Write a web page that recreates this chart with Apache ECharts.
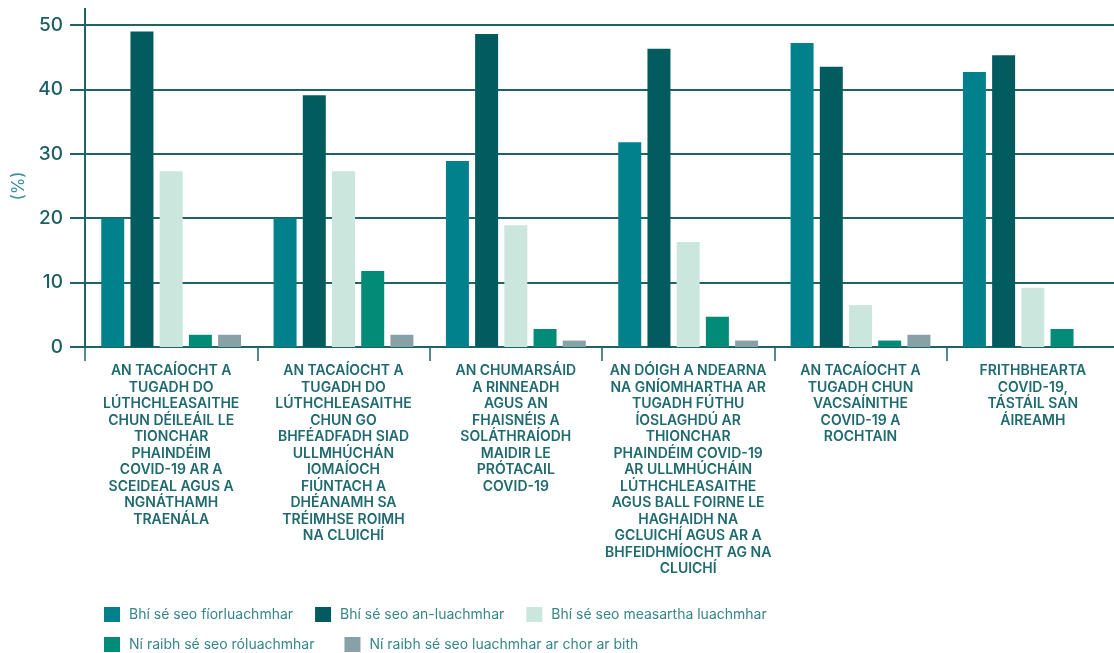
<!DOCTYPE html>
<html>
<head>
<meta charset="utf-8">
<script src="https://cdn.jsdelivr.net/npm/echarts@6/dist/echarts.min.js"></script>
<style>
  html, body { margin: 0; padding: 0; background: #ffffff; }
  #chart { width: 1114px; height: 653px; }
</style>
</head>
<body>
<div id="chart"></div>
<script>
// Categories (axis labels, wrapped as printed)
const categories = [
  'AN TACAÍOCHT A\nTUGADH DO\nLÚTHCHLEASAITHE\nCHUN DÉILEÁIL LE\nTIONCHAR\nPHAINDÉIM\nCOVID-19 AR A\nSCEIDEAL AGUS A\nNGNÁTHAMH\nTRAENÁLA',
  'AN TACAÍOCHT A\nTUGADH DO\nLÚTHCHLEASAITHE\nCHUN GO\nBHFÉADFADH SIAD\nULLMHÚCHÁN\nIOMAÍOCH\nFIÚNTACH A\nDHÉANAMH SA\nTRÉIMHSE ROIMH\nNA CLUICHÍ',
  'AN CHUMARSÁID\nA RINNEADH\nAGUS AN\nFHAISNÉIS A\nSOLÁTHRAÍODH\nMAIDIR LE\nPRÓTACAIL\nCOVID-19',
  'AN DÓIGH A NDEARNA\nNA GNÍOMHARTHA AR\nTUGADH FÚTHU\nÍOSLAGHDÚ AR\nTHIONCHAR\nPHAINDÉIM COVID-19\nAR ULLMHÚCHÁIN\nLÚTHCHLEASAITHE\nAGUS BALL FOIRNE LE\nHAGHAIDH NA\nGCLUICHÍ AGUS AR A\nBHFEIDHMÍOCHT AG NA\nCLUICHÍ',
  'AN TACAÍOCHT A\nTUGADH CHUN\nVACSAÍNITHE\nCOVID-19 A\nROCHTAIN',
  'FRITHBHEARTA\nCOVID-19,\nTÁSTÁIL SAN\nÁIREAMH'
];

// Series names
const seriesNames = [
  'Bhí sé seo fíorluachmhar',
  'Bhí sé seo an-luachmhar',
  'Bhí sé seo measartha luachmhar',
  'Ní raibh sé seo róluachmhar',
  'Ní raibh sé seo luachmhar ar chor ar bith'
];

// Values (%) per series, one per category
const veryValuable       = [20, 20, 28.9, 31.8, 47.2, 42.7];
const extremelyValuable  = [49, 39.1, 48.6, 46.3, 43.5, 45.3];
const moderatelyValuable = [27.3, 27.3, 18.9, 16.3, 6.5, 9.2];
const notVeryValuable    = [1.9, 11.8, 2.8, 4.7, 1, 2.8];
const notAtAllValuable   = [1.9, 1.9, 1, 1, 1.9, 0];

// Y-axis ticks
const yTicks = [0, 10, 20, 30, 40, 50];

const seriesValues = [veryValuable, extremelyValuable, moderatelyValuable, notVeryValuable, notAtAllValuable];
const colors = ['#00818c', '#025c5f', '#cbe6dc', '#028b77', '#87a1a6'];

const axisColor = '#1f6367';
const FONT = 'Inter, Lato, sans-serif';

const chart = echarts.init(document.getElementById('chart'), null, { renderer: 'canvas' });

const legendText = { fontFamily: FONT, fontSize: 14, color: '#35858a', padding: [0, 0, 0, 4] };

const option = {
  backgroundColor: '#ffffff',
  animation: false,
  textStyle: { fontFamily: FONT },
  // the plot runs slightly past the right edge of the canvas
  grid: { left: 85, width: 1034, top: 25, bottom: 306, containLabel: false, outerBoundsMode: 'none' },
  legend: [
    {
      data: seriesNames.slice(0, 3),
      left: 104, top: 607, padding: 0,
      itemWidth: 16, itemHeight: 15, itemGap: 22,
      icon: 'rect',
      textStyle: legendText
    },
    {
      data: seriesNames.slice(3),
      left: 104, top: 637, padding: 0,
      itemWidth: 16, itemHeight: 15, itemGap: 30,
      icon: 'rect',
      textStyle: legendText
    }
  ],
  xAxis: {
    type: 'category',
    data: categories,
    boundaryGap: true,
    axisLine: { show: true, lineStyle: { color: axisColor, width: 2 } },
    axisTick: { show: true, length: 14, alignWithLabel: false, lineStyle: { color: axisColor, width: 1.5 } },
    axisLabel: {
      interval: 0,
      margin: 16,
      fontFamily: FONT,
      fontSize: 14,
      fontWeight: 600,
      lineHeight: 16.5,
      color: '#1f6a6f',
      align: 'center'
    }
  },
  yAxis: {
    type: 'value',
    min: yTicks[0],
    max: yTicks[yTicks.length - 1],
    interval: yTicks[1] - yTicks[0],
    name: '(%)',
    nameLocation: 'middle',
    nameGap: 57,
    nameRotate: 90,
    nameTextStyle: { fontFamily: FONT, fontSize: 17, color: '#3a9095' },
    axisLine: { show: true, lineStyle: { color: axisColor, width: 2 } },
    axisTick: { show: true, inside: false, length: 15, lineStyle: { color: axisColor, width: 2 } },
    axisLabel: {
      margin: 22,
      fontFamily: FONT,
      fontSize: 19,
      fontWeight: 500,
      color: '#1b5e63'
    },
    splitLine: { show: true, lineStyle: { color: axisColor, width: 2 } }
  },
  series: seriesNames.map((name, i) => ({
    name: name,
    type: 'bar',
    data: seriesValues[i],
    barWidth: 23,
    barGap: '27%',
    itemStyle: { color: colors[i] },
    z: 3
  }))
};

chart.setOption(option);

// Extend the y axis line a little above the top gridline
const yTop = chart.convertToPixel({ yAxisIndex: 0 }, yTicks[yTicks.length - 1]);
const xLeft = chart.convertToPixel({ xAxisIndex: 0 }, 0) - chart.getModel().getComponent('xAxis', 0).axis.getBandWidth() / 2;
chart.setOption({
  graphic: [{
    type: 'line',
    shape: { x1: xLeft, y1: yTop - 17, x2: xLeft, y2: yTop },
    style: { stroke: axisColor, lineWidth: 2 },
    z: 10
  }]
});
</script>
</body>
</html>
